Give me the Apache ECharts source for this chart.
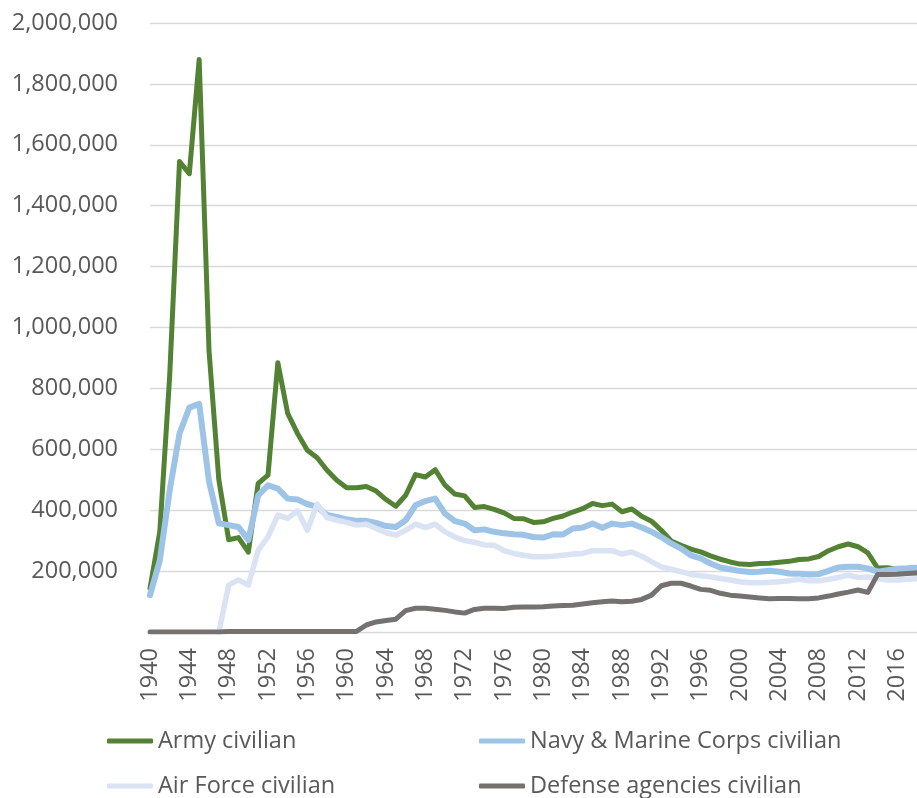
<!DOCTYPE html>
<html><head><meta charset="utf-8">
<script src="https://cdn.jsdelivr.net/npm/echarts@6/dist/echarts.min.js"></script>
<style>html,body{margin:0;padding:0;background:#fff}#c{width:917px;height:798px}</style>
</head><body><div id="c"></div>
<script>
const years = ['1940','1941','1942','1943','1944','1945','1946','1947','1948','1949',
'1950','1951','1952','1953','1954','1955','1956','1957','1958','1959',
'1960','1961','1962','1963','1964','1965','1966','1967','1968','1969',
'1970','1971','1972','1973','1974','1975','1976','1977','1978','1979',
'1980','1981','1982','1983','1984','1985','1986','1987','1988','1989',
'1990','1991','1992','1993','1994','1995','1996','1997','1998','1999',
'2000','2001','2002','2003','2004','2005','2006','2007','2008','2009',
'2010','2011','2012','2013','2014','2015','2016','2017','2018'];

const seriesNames = ['Army civilian','Navy & Marine Corps civilian','Air Force civilian','Defense agencies civilian'];

const army = [143000,330000,840000,1545000,1505000,1880000,925000,500000,303000,310000,
262000,488000,515000,884000,718000,652000,597000,572000,531000,498000,
474000,474000,478000,463000,435000,413000,449000,517000,509000,533000,
482000,453000,447000,409000,412000,403000,391000,373000,372000,360000,
362000,373000,381000,394000,405000,422000,415000,420000,395000,404000,
380000,364000,334000,299000,285000,272000,263000,250000,239000,230000,
223000,222000,225000,226000,229000,232000,238000,240000,248000,267000,
280000,289000,280000,260000,210000,211000,206000,207000,208000];

const navy = [121000,235000,465000,652000,737000,749000,495000,357000,351000,345000,
302000,449000,482000,471000,438000,435000,420000,411000,384000,378000,
370000,365000,365000,358000,348000,345000,367000,416000,430000,438000,
389000,364000,356000,334000,337000,329000,324000,321000,319000,312000,
310000,321000,320000,340000,343000,356000,342000,356000,351000,356000,
343000,329000,312000,291000,274000,252000,242000,225000,212000,206000,
200000,197000,198000,201000,198000,192000,191000,189000,190000,201000,
212000,214000,214000,209000,198000,203000,208000,209000,211000];

const airForce = [null,null,null,null,null,null,null,0,154000,171000,
154000,268000,312000,384000,373000,398000,334000,420000,376000,367000,
360000,351000,354000,340000,326000,318000,334000,354000,343000,354000,
329000,312000,300000,295000,286000,285000,267000,258000,252000,247000,
247000,249000,252000,256000,258000,267000,267000,267000,256000,263000,
249000,231000,214000,206000,198000,189000,185000,181000,176000,171000,
165000,162000,162000,163000,165000,168000,173000,168000,168000,173000,
179000,187000,179000,181000,176000,171000,171000,173000,175000];

const defense = [0,0,0,0,0,0,0,0,2000,2000,
2000,2000,2000,2000,2000,2000,2000,2000,2000,2000,
2000,2000,23000,33000,38000,42000,70000,78000,78000,75000,
71000,66000,62000,74000,78000,78000,77000,81000,82000,82000,
83000,85000,87000,88000,92000,96000,99000,102000,99000,101000,
107000,121000,152000,160000,160000,151000,140000,137000,127000,121000,
118000,115000,112000,109000,110000,110000,109000,109000,112000,118000,
125000,131000,138000,130000,189000,189000,190000,192000,194000];

const yMin = 0, yMax = 2000000, yStep = 200000;

const FONT = '"Open Sans", "Liberation Sans", sans-serif';
const TXT = '#595959';
const colors = ['#548235', '#9DC3E6', '#DAE3F3', '#767171'];
const widths = [5, 6, 5.5, 5];
const dataSets = [army, navy, airForce, defense];
const legendPos = [[107, 729], [479, 729], [107, 774], [479, 774]];

const chart = echarts.init(document.getElementById('c'), null, {renderer: 'canvas'});
const option = {
  animation: false,
  backgroundColor: '#ffffff',
  grid: {left: 150, right: -3, top: 23, bottom: 166, containLabel: false},
  xAxis: {
    type: 'category', data: years, boundaryGap: false,
    axisLine: {show: false}, axisTick: {show: false}, splitLine: {show: false},
    axisLabel: {interval: 3, rotate: 90, margin: 16, fontFamily: FONT, fontSize: 23.5, color: TXT}
  },
  yAxis: {
    type: 'value', min: yMin, max: yMax, interval: yStep,
    axisLine: {show: false}, axisTick: {show: false},
    splitLine: {lineStyle: {color: '#d9d9d9', width: 1.3}},
    axisLabel: {
      margin: 32, fontFamily: FONT, fontSize: 23.5, color: TXT,
      formatter: v => v === 0 ? '' : v.toLocaleString('en-US')
    }
  },
  legend: seriesNames.map((n, i) => ({
    data: [n], left: legendPos[i][0], top: legendPos[i][1], padding: 0,
    icon: 'roundRect', itemWidth: 46, itemHeight: 5,
    textStyle: {fontFamily: FONT, fontSize: 23.5, color: TXT}
  })),
  series: seriesNames.map((n, i) => ({
    name: n, type: 'line', data: dataSets[i], showSymbol: false, symbol: 'none',
    color: colors[i],
    lineStyle: {color: colors[i], width: widths[i], cap: 'round', join: 'round'},
    connectNulls: false
  }))
};
chart.setOption(option);
</script></body></html>
